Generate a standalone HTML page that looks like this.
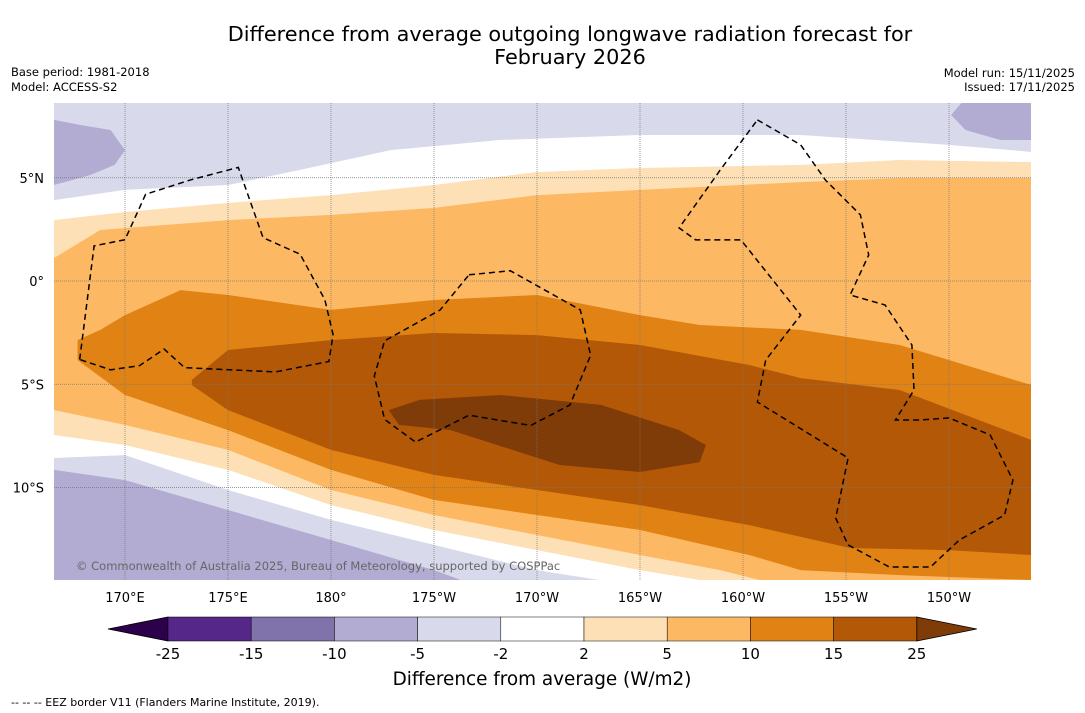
<!DOCTYPE html>
<html><head><meta charset="utf-8">
<style>
body{margin:0;background:#fff;font-family:"Liberation Sans","DejaVu Sans",sans-serif;}
svg{display:block}
text{font-family:"DejaVu Sans","Liberation Sans",sans-serif;}
</style></head>
<body>
<svg id="chart" width="1085" height="713" viewBox="0 0 1085 713" xmlns="http://www.w3.org/2000/svg">
<text x="570" y="41" font-size="20.8" text-anchor="middle">Difference from average outgoing longwave radiation forecast for</text>
<text x="570" y="64" font-size="20.8" text-anchor="middle">February 2026</text>
<text x="11" y="76" font-size="11.5">Base period: 1981-2018</text>
<text x="11" y="91" font-size="11.5">Model: ACCESS-S2</text>
<text x="1075" y="77" font-size="11.5" text-anchor="end">Model run: 15/11/2025</text>
<text x="1075" y="91" font-size="11.5" text-anchor="end">Issued: 17/11/2025</text>
<defs><clipPath id="mapclip"><rect x="54" y="103" width="977" height="477"/></clipPath></defs>
<g id="map" clip-path="url(#mapclip)">
<rect x="54" y="103" width="977" height="477" fill="#fff"/>
</g>
<g id="axes"></g>
<g id="cbar"></g>
<text x="542" y="685" font-size="18.4" text-anchor="middle">Difference from average (W/m2)</text>
<text x="11" y="706" font-size="11">--  --  -- EEZ border V11 (Flanders Marine Institute, 2019).</text>
</svg>
<script>
const lonTicks=[170,175,180,185,190,195,200,205,210];
const lonLabels=["170°E","175°E","180°","175°W","170°W","165°W","160°W","155°W","150°W"];
const latTicks=[5,0,-5,-10];
const latLabels=["5°N","0°","5°S","10°S"];
const topNeg2=[[166.55,3.92],[170,4.41],[175,4.65],[178.5,5.38],[182.9,6.34],[188.2,6.83],[195,7.07],[202.8,7.07],[210,6.59],[214,6.25]];
const topNeg5Left=[[166.55,7.8],[167.8,7.56],[169.3,7.31],[170,6.34],[169.5,5.62],[168.3,5.13],[166.55,4.65]];
const topNeg5Right=[[210.6,8.62],[210.1,8.04],[210.8,7.31],[212.5,6.83],[214,6.83],[214,8.62]];
const pos2Upper=[[166.55,2.95],[170,3.34],[175,3.78],[180,4.16],[185,4.65],[190,5.28],[195,5.47],[202.8,5.62],[207.6,5.86],[214,5.76]];
const pos2Lower=[[166.55,-7.46],[170,-7.94],[175,-9.15],[180,-10.85],[185,-12.06],[190,-13.03],[195,-14.0],[197.9,-14.48],[214,-14.48]];
const pos5Upper=[[166.55,1.11],[168.8,2.47],[175,2.95],[180,3.2],[185,3.54],[190,4.16],[195,4.41],[202.8,4.79],[207.6,4.99],[214,4.99]];
const pos5Lower=[[166.55,-6.25],[170,-6.97],[175,-8.18],[180,-10.12],[185,-11.33],[190,-12.3],[195,-13.27],[198.9,-14.0],[200.8,-14.48],[214,-14.48]];
const pos10Upper=[[167.7,-2.86],[168.8,-2.37],[170,-1.65],[172.7,-0.44],[175,-0.68],[180,-1.4],[185,-0.92],[190,-0.68],[195,-1.65],[197.9,-2.13],[202.8,-2.37],[207.6,-3.1],[214,-5.04]];
const pos10Lower=[[167.7,-3.83],[170,-5.52],[175,-7.22],[180,-9.15],[185,-10.6],[190,-11.33],[195,-12.06],[200.3,-13.27],[202.8,-14.0],[207.6,-14.24],[214,-14.48]];
const pos15Upper=[[173.25,-4.79],[175,-3.34],[180,-2.86],[185,-2.52],[190,-2.62],[195,-3.1],[200.3,-4.07],[202.8,-4.7],[207.6,-5.28],[214,-7.7]];
const pos15Lower=[[173.25,-5.04],[175,-6.25],[180,-8.18],[185,-9.39],[190,-10.12],[195,-10.85],[200.3,-11.82],[205.2,-12.93],[210,-13.03],[214,-13.27]];
const pos25Blob=[[182.8,-6.25],[184.3,-5.76],[188.2,-5.52],[193.1,-6.0],[196.9,-7.22],[198.2,-7.94],[197.9,-8.77],[195,-9.25],[191.1,-8.91],[185.8,-7.22],[183.3,-6.97]];
const botNeg2=[[166.55,-8.57],[170,-8.43],[175,-10.12],[180,-11.57],[185,-12.78],[190,-14.0],[193,-14.48]];
const botNeg5=[[166.55,-9.15],[170,-9.64],[175,-11.09],[180,-12.54],[185,-14.0],[186.3,-14.48]];
const eez1=[[167.8,-3.8],[168.5,1.7],[170,2.0],[171,4.2],[173.2,4.9],[175.5,5.5],[176.7,2.1],[178.5,1.3],[179.7,-0.9],[180.1,-2.6],[179.9,-3.9],[177.3,-4.4],[172.9,-4.2],[171.9,-3.3],[170.7,-4.1],[169.3,-4.3],[167.8,-3.8]];
const eez2=[[186.7,0.3],[188.7,0.5],[192.1,-1.4],[192.6,-3.6],[191.6,-6.0],[189.7,-7.0],[186.7,-6.5],[184.1,-7.8],[182.6,-6.7],[182.1,-4.6],[182.6,-2.9],[185.3,-1.4],[186.7,0.3]];
const eez3=[[200.7,7.8],[202.8,6.59],[204.0,4.89],[205.7,3.2],[206.1,1.26],[205.2,-0.68],[206.9,-1.16],[208.2,-3.1],[208.3,-5.28],[207.4,-6.73],[208.6,-6.73],[210.0,-6.63],[212.0,-7.46],[213.1,-9.64],[212.7,-11.33],[210.5,-12.54],[209.1,-13.85],[207.1,-13.85],[205.1,-12.78],[204.5,-11.48],[205.1,-8.57],[200.7,-5.86],[201.1,-3.83],[202.8,-1.65],[199.9,1.99],[197.7,1.99],[196.9,2.57],[198.9,5.38],[200.7,7.8]];
const cbarTicks=["-25","-15","-10","-5","-2","2","5","10","15","25"];
const cbarColors=["#542788","#8073ac","#b2abd2","#d8daeb","#ffffff","#fee0b6","#fdb863","#e08214","#b35806"];

const NS="http://www.w3.org/2000/svg";
const LAT_TOP=8.62, LAT_BOT=-14.48, LON_L=166.55, LON_R=214;
function xOf(lon){return 125+(lon-170)*20.6;}
function yOf(lat){return 281-lat*20.65;}
function pts(a){return a.map(p=>xOf(p[0]).toFixed(1)+","+yOf(p[1]).toFixed(1)).join(" ");}
const map=document.getElementById("map");
function poly(list,fill,name){
  const p=document.createElementNS(NS,"polygon");
  p.setAttribute("points",pts(list));p.setAttribute("fill",fill);
  
  
  map.appendChild(p);
}
poly([[LON_L,LAT_TOP]].concat(topNeg2,[[LON_R,LAT_TOP]]),"#d8daeb","band-top-neg2");
poly(topNeg5Left,"#b2abd2","band-top-neg5-left");
poly(topNeg5Right,"#b2abd2","band-top-neg5-right");
poly(pos2Upper.concat(pos2Lower.slice().reverse()),"#fee0b6","band-pos2");
poly(pos5Upper.concat(pos5Lower.slice().reverse()),"#fdb863","band-pos5");
poly(pos10Upper.concat(pos10Lower.slice().reverse()),"#e08214","band-pos10");
poly(pos15Upper.concat(pos15Lower.slice().reverse()),"#b35806","band-pos15");
poly(pos25Blob,"#7f3b08","band-pos25");
poly(botNeg2.concat([[LON_L,LAT_BOT]]),"#d8daeb","band-bottom-neg2");
poly(botNeg5.concat([[LON_L,LAT_BOT]]),"#b2abd2","band-bottom-neg5");
lonTicks.forEach(l=>{const ln=document.createElementNS(NS,"line");
  ln.setAttribute("x1",xOf(l));ln.setAttribute("x2",xOf(l));ln.setAttribute("y1",103);ln.setAttribute("y2",580);
  ln.setAttribute("stroke","#777");ln.setAttribute("stroke-width","0.7");ln.setAttribute("stroke-dasharray","1,1");
  
  
  map.appendChild(ln);});
latTicks.forEach(l=>{const ln=document.createElementNS(NS,"line");
  ln.setAttribute("y1",yOf(l));ln.setAttribute("y2",yOf(l));ln.setAttribute("x1",54);ln.setAttribute("x2",1031);
  ln.setAttribute("stroke","#777");ln.setAttribute("stroke-width","0.7");ln.setAttribute("stroke-dasharray","1,1");
  
  
  map.appendChild(ln);});
[eez1,eez2,eez3].forEach(e=>{const pl=document.createElementNS(NS,"polyline");
  pl.setAttribute("points",pts(e));pl.setAttribute("fill","none");pl.setAttribute("stroke","#000");
  pl.setAttribute("stroke-width","1.5");pl.setAttribute("stroke-dasharray","6,4");
  
  
  map.appendChild(pl);});
const cr=document.createElementNS(NS,"text");
cr.setAttribute("x",76);cr.setAttribute("y",570);cr.setAttribute("font-size","11.5");cr.setAttribute("fill","#666");
cr.textContent="© Commonwealth of Australia 2025, Bureau of Meteorology, supported by COSPPac";


map.appendChild(cr);
const axes=document.getElementById("axes");
lonTicks.forEach((l,i)=>{const t=document.createElementNS(NS,"text");
  t.setAttribute("x",xOf(l));t.setAttribute("y",602);t.setAttribute("font-size","13");t.setAttribute("text-anchor","middle");
  t.textContent=lonLabels[i];
  
  
  axes.appendChild(t);});
latTicks.forEach((l,i)=>{const t=document.createElementNS(NS,"text");
  t.setAttribute("x",44);t.setAttribute("y",yOf(l)+5);t.setAttribute("font-size","13");t.setAttribute("text-anchor","end");
  t.textContent=latLabels[i];
  
  
  axes.appendChild(t);});
const cb=document.getElementById("cbar");
const cx0=168, cw=83.2, cy=617, ch=24;
const lt=document.createElementNS(NS,"polygon");
lt.setAttribute("points",`108,${cy+ch/2} ${cx0},${cy} ${cx0},${cy+ch}`);lt.setAttribute("fill","#2d004b");lt.setAttribute("stroke","#000");lt.setAttribute("stroke-width","0.8");


cb.appendChild(lt);
cbarColors.forEach((c,i)=>{const r=document.createElementNS(NS,"rect");
  r.setAttribute("x",cx0+i*cw);r.setAttribute("y",cy);r.setAttribute("width",cw);r.setAttribute("height",ch);
  r.setAttribute("fill",c);r.setAttribute("stroke","#000");r.setAttribute("stroke-width","0.5");
  
  
  cb.appendChild(r);});
const xe=cx0+cbarColors.length*cw;
const rt=document.createElementNS(NS,"polygon");
rt.setAttribute("points",`${xe},${cy} ${xe+60},${cy+ch/2} ${xe},${cy+ch}`);rt.setAttribute("fill","#7f3b08");rt.setAttribute("stroke","#000");rt.setAttribute("stroke-width","0.8");


cb.appendChild(rt);
cbarTicks.forEach((s,i)=>{const t=document.createElementNS(NS,"text");
  t.setAttribute("x",cx0+i*cw);t.setAttribute("y",659);t.setAttribute("font-size","15");t.setAttribute("text-anchor","middle");
  t.textContent=s;
  
  
  cb.appendChild(t);});
</script>
</body></html>
